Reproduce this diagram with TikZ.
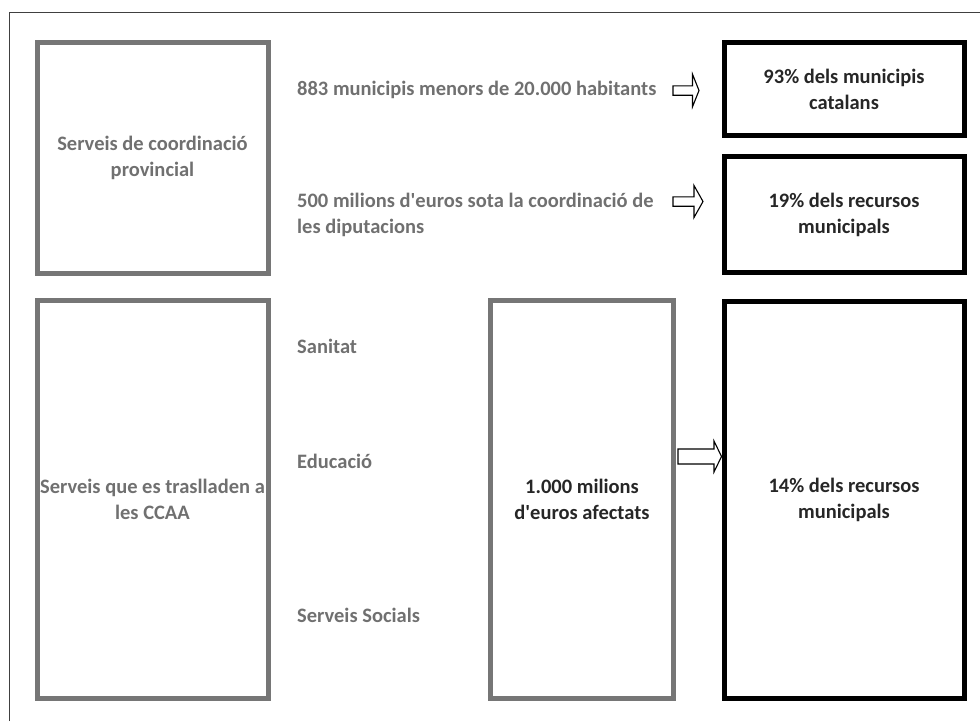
\documentclass[tikz,border=0pt]{standalone}
\usepackage{fontspec}
\setmainfont{Carlito}
\usetikzlibrary{calc}

\definecolor{boxgray}{RGB}{118,118,118}
\definecolor{labelgray}{RGB}{112,112,112}
\definecolor{darktext}{RGB}{38,38,38}

\newcommand\diagfont{\fontsize{20.5}{26}\selectfont\bfseries}
\newcommand\blockarrow[5]{
  \draw[blockarrowline] ($(#1)+(0,#3)$) -- ($(#2)+(-#5,#3)$) -- ($(#2)+(-#5,#4)$) -- (#2)
    -- ($(#2)+(-#5,-#4)$) -- ($(#2)+(-#5,-#3)$) -- ($(#1)+(0,-#3)$) -- cycle ;
}

\tikzset{
  graybox/.style={draw=boxgray, line width=5, inner sep=0, align=center, text=labelgray, font=\diagfont},
  blackbox/.style={draw=black, line width=5, inner sep=0, align=center, text=darktext, font=\diagfont},
  sidelabel/.style={inner sep=0, align=left, text=labelgray, font=\diagfont},
  blockarrowline/.style={draw=black, fill=white, line width=1.1, line join=miter},
  framestyle/.style={draw=black!75, line width=1.3},
}

\begin{document}
\begin{tikzpicture}[x=1pt, y=-1pt]
  \useasboundingbox (0,0) rectangle (980,721);
  \draw[framestyle] (9.5,721) -- (9.5,12.5) -- (980,12.5);

  \node (provbox) [graybox, minimum width=231, minimum height=231] at (152.5,158) {Serveis de coordinació\\provincial};
  \node (ccaabox) [graybox, minimum width=231, minimum height=397.5] at (152.5,499.25) {Serveis que es traslladen a\\les CCAA};
  \node (milbox) [graybox, text=darktext, minimum width=183, minimum height=397.5] at (582,499.25) {1.000 milions\\d\textquotesingle euros afectats};

  \node (pctmun) [blackbox, minimum width=240, minimum height=93] at (844,89) {93\% dels municipis\\catalans};
  \node (pctrec) [blackbox, minimum width=240, minimum height=116] at (844,214.5) {19\% dels recursos\\municipals};
  \node (pctccaa) [blackbox, minimum width=240, minimum height=397] at (844,499.5) {14\% dels recursos\\municipals};

  \node (munlabel) [sidelabel, anchor=base west] at (297,95) {883 municipis menors de 20.000 habitants};
  \node (eurlabel) [sidelabel, anchor=base west] at (297,233) {500 milions d\textquotesingle euros sota la coordinació de\\les diputacions};
  \node (sanlabel) [sidelabel, anchor=base west] at (297,353) {Sanitat};
  \node (edulabel) [sidelabel, anchor=base west] at (297,468) {Educació};
  \node (soclabel) [sidelabel, anchor=base west] at (297,622) {Serveis Socials};

  \coordinate (munarrow) at (673,90.5);
  \coordinate (munarrowtip) at (699,90.5);
  \coordinate (eurarrow) at (673,201.5);
  \coordinate (eurarrowtip) at (703,201.5);
  \coordinate (milarrow) at ($(milbox.east |- 0,456.5)+(2,0)$);
  \coordinate (milarrowtip) at ($(pctccaa.west |- 0,456.5)+(0,0)$);
  \blockarrow{munarrow}{munarrowtip}{4.7}{16.3}{6.5}
  \blockarrow{eurarrow}{eurarrowtip}{4.7}{16}{9}
  \blockarrow{milarrow}{milarrowtip}{7.5}{15.5}{7.5}
\end{tikzpicture}
\end{document}
